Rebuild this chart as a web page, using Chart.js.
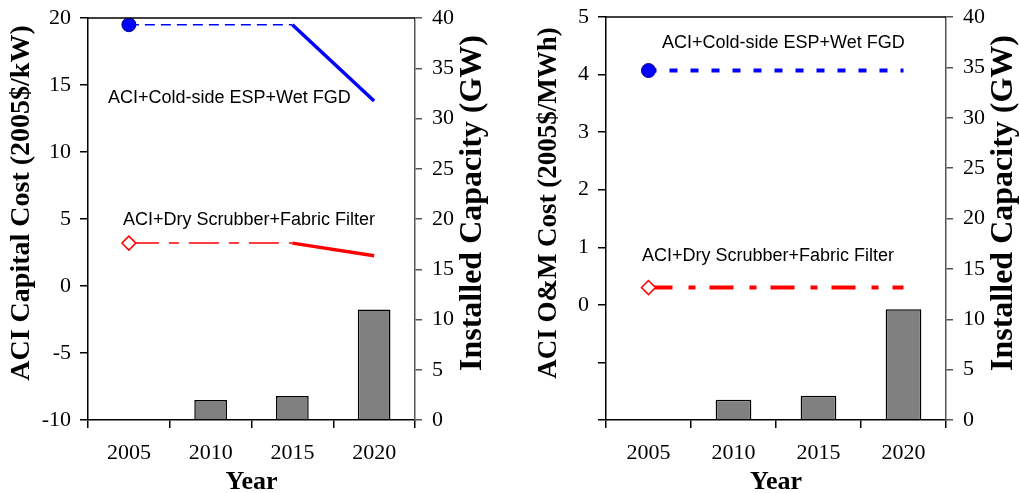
<!DOCTYPE html>
<html lang="en">
<head>
    <meta charset="UTF-8">
    <title>ACI Cost and Installed Capacity</title>
    <script src="https://cdn.jsdelivr.net/npm/chart.js"></script>
    <style>
        body { margin: 0; background: #fff; }
        .wrap { position: relative; width: 1019px; height: 493px; }
        #capitalChart { position: absolute; left: 0; top: 0; }
        #omChart { position: absolute; left: 515px; top: 0; }
    </style>
</head>
<body>
    <div class="wrap">
        <canvas id="capitalChart" width="505" height="493"></canvas>
        <canvas id="omChart" width="504" height="493"></canvas>
    </div>

    <script>
        const years = ['2005', '2010', '2015', '2020'];

        // installed capacity, GW (no bar in 2005)
        const capacityGW = [null, 2.0, 2.4, 11.0];

        // capital cost, 2005$/kW
        const capitalColdEsp = [19.5, 19.5, 19.5, 13.8];
        const capitalDryScrubber = [3.2, 3.2, 3.2, 2.25];

        // O&M cost, 2005$/MWh
        const omColdEsp = [4.07, 4.07, 4.07, 4.07];
        const omDryScrubber = [0.3, 0.3, 0.3, 0.3];

        const capitalRange = [-10, 20, 5];
        const omRange = [-2, 5, 1];
        const capacityRange = [0, 40, 5];

        const coldEspLabel = 'ACI+Cold-side ESP+Wet FGD';
        const dryScrubberLabel = 'ACI+Dry Scrubber+Fabric Filter';

        const serif = "'Liberation Serif', 'Times New Roman', serif";
        const sans = "'Liberation Sans', Arial, sans-serif";

        // top border, rotated side titles and the in-plot series captions
        const decorPlugin = {
            id: 'decor',
            afterDraw(chart, args, opts) {
                const ctx = chart.ctx;
                const area = chart.chartArea;
                ctx.save();
                ctx.strokeStyle = '#000';
                ctx.lineWidth = 1.5;
                ctx.beginPath();
                ctx.moveTo(area.left, area.top);
                ctx.lineTo(area.right, area.top);
                ctx.stroke();

                ctx.fillStyle = '#000';
                ctx.textAlign = 'center';
                ctx.textBaseline = 'middle';
                opts.sideTitles.forEach(t => {
                    const x = t.side === 'left' ? area.left - t.gap : area.right + t.gap;
                    ctx.save();
                    ctx.translate(x, opts.titleY);
                    ctx.rotate(-Math.PI / 2);
                    ctx.font = 'bold ' + t.size + 'px ' + serif;
                    ctx.fillText(t.text, 0, 0);
                    ctx.restore();
                });

                ctx.textAlign = 'left';
                ctx.font = '18px ' + sans;
                const y = chart.scales.y;
                opts.captions.forEach(c => {
                    ctx.fillText(c.text, area.left + c.dx, y.getPixelForValue(c.value));
                });
                ctx.restore();
            }
        };

        // fixed axis box size, no extra room for the end labels
        const fitWidth = w => s => { s.width = w; s.paddingTop = 0; s.paddingBottom = 0; };

        function makeChart(id, cfg) {
            const lineBase = {
                type: 'line',
                yAxisID: 'y',
                order: 1,
                fill: false,
                tension: 0,
                pointRadius: [7, 0, 0, 0],
                pointHoverRadius: [7, 0, 0, 0]
            };

            new Chart(document.getElementById(id).getContext('2d'), {
                type: 'bar',
                data: {
                    labels: years,
                    datasets: [
                        Object.assign({}, lineBase, {
                            data: cfg.blue,
                            borderColor: '#0000FF',
                            pointStyle: 'circle',
                            pointBackgroundColor: '#0000FF',
                            pointBorderColor: '#000080',
                            pointBorderWidth: 1,
                            borderWidth: cfg.blueStyle.width,
                            segment: cfg.blueStyle.segment
                        }),
                        Object.assign({}, lineBase, {
                            data: cfg.red,
                            borderColor: '#FF0000',
                            pointStyle: 'rectRot',
                            pointBackgroundColor: '#FFFFFF',
                            pointBorderColor: '#FF0000',
                            pointBorderWidth: 1.5,
                            borderWidth: cfg.redStyle.width,
                            segment: cfg.redStyle.segment
                        }),
                        {
                            type: 'bar',
                            yAxisID: 'y2',
                            order: 2,
                            data: capacityGW,
                            backgroundColor: '#808080',
                            borderColor: '#000000',
                            borderWidth: 1.5,
                            barPercentage: cfg.barPct,
                            categoryPercentage: 1
                        }
                    ]
                },
                options: {
                    responsive: false,
                    animation: false,
                    layout: { padding: { top: cfg.top, left: 0, right: 0, bottom: 0 } },
                    plugins: {
                        legend: { display: false },
                        tooltip: { enabled: false },
                        decor: {
                            titleY: 203,
                            sideTitles: cfg.sideTitles,
                            captions: cfg.captions
                        }
                    },
                    scales: {
                        x: {
                            offset: true,
                            grid: { offset: true, drawOnChartArea: false, tickLength: 8, color: '#000', lineWidth: 1.5 },
                            border: { color: '#000', width: 1.5 },
                            ticks: { color: '#000', font: { family: serif, size: 22 }, padding: 12 },
                            title: {
                                display: true,
                                text: 'Year',
                                color: '#000',
                                font: { family: serif, size: 26, weight: 'bold', lineHeight: 1 },
                                padding: { top: 0, bottom: -2 }
                            },
                            afterFit: s => { s.height = 73; }
                        },
                        y: {
                            position: 'left',
                            min: cfg.leftRange[0],
                            max: cfg.leftRange[1],
                            grid: { drawOnChartArea: false, tickLength: 8, color: '#000', lineWidth: 1.5 },
                            border: { color: '#000', width: 1.5 },
                            ticks: {
                                stepSize: cfg.leftRange[2],
                                color: '#000',
                                font: { family: serif, size: 22 },
                                padding: cfg.leftPad,
                                callback: v => (v < 0 && cfg.hideNegative ? '' : v)
                            },
                            afterFit: fitWidth(cfg.leftWidth)
                        },
                        y2: {
                            position: 'right',
                            min: capacityRange[0],
                            max: capacityRange[1],
                            grid: { drawOnChartArea: false, tickLength: 7, color: '#555', lineWidth: 1.5 },
                            border: { color: '#555', width: 1.5 },
                            ticks: {
                                stepSize: capacityRange[2],
                                color: '#000',
                                font: { family: serif, size: 22 },
                                padding: 10
                            },
                            afterFit: fitWidth(cfg.rightWidth)
                        }
                    }
                },
                plugins: [decorPlugin]
            });
        }

        // capital cost: flat and dashed until 2015, then solid and heavier
        const splitAt2015 = (thin, thick, dash) => ({
            width: thin,
            segment: {
                borderWidth: c => (c.p0DataIndex >= 2 ? thick : thin),
                borderDash: c => (c.p0DataIndex >= 2 ? [] : dash)
            }
        });

        makeChart('capitalChart', {
            blue: capitalColdEsp,
            red: capitalDryScrubber,
            blueStyle: splitAt2015(1.5, 3.5, [10, 6]),
            redStyle: splitAt2015(1.5, 3.5, [30, 10, 10, 10]),
            leftRange: capitalRange,
            hideNegative: false,
            leftWidth: 88,
            rightWidth: 90,
            leftPad: 9,
            top: 18,
            barPct: 0.4,
            sideTitles: [
                { side: 'left', gap: 66, size: 28, text: 'ACI Capital Cost (2005$/kW)' },
                { side: 'right', gap: 58, size: 32, text: 'Installed Capacity (GW)' }
            ],
            captions: [
                { text: coldEspLabel, value: 14.0, dx: 20 },
                { text: dryScrubberLabel, value: 4.9, dx: 35 }
            ]
        });

        makeChart('omChart', {
            blue: omColdEsp,
            red: omDryScrubber,
            blueStyle: { width: 4, segment: { borderDash: () => [8, 13] } },
            redStyle: { width: 4, segment: { borderDash: () => [24, 16, 7, 14] } },
            leftRange: omRange,
            hideNegative: true,
            leftWidth: 91,
            rightWidth: 73,
            leftPad: 9,
            top: 17,
            barPct: 0.42,
            sideTitles: [
                { side: 'left', gap: 57, size: 27, text: 'ACI O&M Cost (2005$/MWh)' },
                { side: 'right', gap: 58, size: 32, text: 'Installed Capacity (GW)' }
            ],
            captions: [
                { text: coldEspLabel, value: 4.55, dx: 56 },
                { text: dryScrubberLabel, value: 0.85, dx: 36 }
            ]
        });
    </script>
</body>
</html>
